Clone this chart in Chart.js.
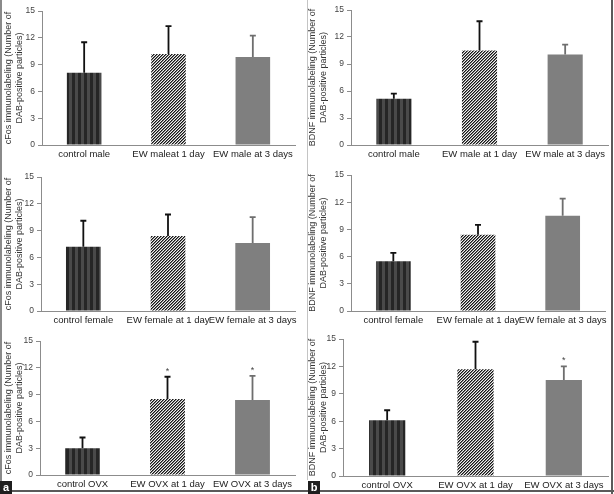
<!DOCTYPE html>
<html>
<head>
<meta charset="utf-8">
<script src="https://cdn.jsdelivr.net/npm/chart.js@4.4.1/dist/chart.umd.min.js"></script>
<style>
  html, body { margin: 0; padding: 0; background: #fff; }
  #wrap { position: relative; width: 614px; height: 494px; overflow: hidden; }
  #wrap canvas { position: absolute; }
  .line { position: absolute; }
  .tag { position: absolute; width: 12px; height: 13px; background: #1e1e1e; color: #fff;
         font: bold 11px "Liberation Sans", Arial, sans-serif; text-align: center; line-height: 12px; }
</style>
</head>
<body>
<div id="wrap">
  <canvas id="p1"></canvas>
  <canvas id="p2"></canvas>
  <canvas id="p3"></canvas>
  <canvas id="p4"></canvas>
  <canvas id="p5"></canvas>
  <canvas id="p6"></canvas>
  <div class="line" style="left:0;top:0;width:2px;height:494px;background:#8a8a8a"></div>
  <div class="line" style="left:307px;top:0;width:1px;height:480px;background:#c4c4c4"></div>
  <div class="line" style="left:611px;top:0;width:2px;height:494px;background:#5a5a5a"></div>
  <div class="line" style="left:0;top:490px;width:614px;height:2px;background:#5a5a5a"></div>
  <div class="tag" style="left:0;top:481px">a</div>
  <div class="tag" style="left:308px;top:481px">b</div>
</div>
<script>
// categories
const maleLabelsA = ["control male", "EW maleat 1 day", "EW male at 3 days"];
const maleLabelsB = ["control male", "EW male at 1 day", "EW male at 3 days"];
const femaleLabels = ["control female", "EW female at 1 day", "EW female at 3 days"];
const ovxLabels = ["control OVX", "EW OVX at 1 day", "EW OVX at 3 days"];

// means and upper error
const cfosMale = [8.1, 10.2, 9.85];
const cfosMaleErr = [3.4, 3.1, 2.4];
const bdnfMale = [5.15, 10.5, 10.05];
const bdnfMaleErr = [0.55, 3.25, 1.1];
const cfosFemale = [7.2, 8.4, 7.6];
const cfosFemaleErr = [2.9, 2.4, 2.9];
const bdnfFemale = [5.5, 8.4, 10.5];
const bdnfFemaleErr = [0.9, 1.1, 1.9];
const cfosOvx = [3.0, 8.5, 8.4];
const cfosOvxErr = [1.2, 2.5, 2.7];
const bdnfOvx = [6.1, 11.7, 10.5];
const bdnfOvxErr = [1.1, 3.0, 1.5];
const cfosOvxSig = ["", "*", "*"];
const bdnfOvxSig = ["", "", "*"];

const yTicks = [0, 3, 6, 9, 12, 15];
const cfosTitle = ["cFos immunolabeling (Number of", "DAB-positive particles)"];
const bdnfTitle = ["BDNF immunolabeling (Number of", "DAB-positive particles)"];

const FONT = '"Liberation Sans", Arial, sans-serif';

function makePattern(w, h, paint) {
  const c = document.createElement("canvas");
  c.width = w; c.height = h;
  const g = c.getContext("2d");
  paint(g);
  return g.createPattern(c, "repeat");
}

// vertical stripes for control bars
const stripes = makePattern(6, 6, (g) => {
  g.fillStyle = "#4a4a4a"; g.fillRect(0, 0, 6, 6);
  g.fillStyle = "#262626"; g.fillRect(0, 0, 3, 6);
});
// fine diagonal hatch for 1 day bars
const hatchShades = ["#151515", "#7a7a7a", "#f0f0f0"];
const hatch = makePattern(3, 3, (g) => {
  for (let x = 0; x < 3; x++)
    for (let y = 0; y < 3; y++) {
      g.fillStyle = hatchShades[(x + y) % 3];
      g.fillRect(x, y, 1, 1);
    }
});
const barFills = [stripes, hatch, "#7f7f7f"];
const errColors = ["#111", "#111", "#6e6e6e"];

const errorBars = {
  id: "errorBars",
  afterDatasetsDraw(chart, args, opts) {
    const ctx = chart.ctx;
    const y = chart.scales.y;
    const vals = chart.data.datasets[0].data;
    chart.getDatasetMeta(0).data.forEach((bar, i) => {
      const top = y.getPixelForValue(vals[i] + opts.errors[i]);
      ctx.save();
      ctx.strokeStyle = errColors[i];
      ctx.lineWidth = 1.8;
      ctx.beginPath();
      ctx.moveTo(bar.x, bar.y);
      ctx.lineTo(bar.x, top);
      ctx.moveTo(bar.x - 3, top);
      ctx.lineTo(bar.x + 3, top);
      ctx.stroke();
      if (opts.stars && opts.stars[i]) {
        ctx.fillStyle = "#444";
        ctx.font = "9px " + FONT;
        ctx.textAlign = "center";
        ctx.textBaseline = "bottom";
        ctx.fillText(opts.stars[i], bar.x, top - 1);
      }
      ctx.restore();
    });
  }
};

function panel(id, box, labels, values, errors, title, stars) {
  const cv = document.getElementById(id);
  cv.width = box.w; cv.height = box.h;
  cv.style.left = box.x + "px"; cv.style.top = box.y + "px";
  const padL = box.x === 0 ? 3.5 : 0;
  new Chart(cv, {
    type: "bar",
    data: {
      labels: labels,
      datasets: [{
        data: values,
        backgroundColor: barFills,
        borderWidth: 0,
        categoryPercentage: 1,
        barPercentage: 0.41
      }]
    },
    options: {
      responsive: false,
      animation: false,
      events: [],
      layout: { padding: { left: padL, top: box.top - box.y, right: box.x + box.w - box.right, bottom: 0 } },
      plugins: {
        legend: { display: false },
        tooltip: { enabled: false },
        errorBars: { errors: errors, stars: stars }
      },
      scales: {
        x: {
          grid: { display: false, drawTicks: false },
          border: { display: true, color: "#8c8c8c", width: 1 },
          ticks: { color: "#222", font: { family: FONT, size: 9.5 }, padding: 4,
                   maxRotation: 0, minRotation: 0, autoSkip: false },
          afterFit: (s) => { s.height = box.y + box.h - box.bottom; }
        },
        y: {
          min: 0, max: 15,
          afterBuildTicks: (s) => { s.ticks = yTicks.map((v) => ({ value: v })); },
          grid: { display: true, drawOnChartArea: false, drawTicks: true, tickLength: 4, color: "#8c8c8c" },
          border: { display: true, color: "#8c8c8c", width: 1 },
          ticks: { color: "#444", font: { family: FONT, size: 8.5 }, padding: 3 },
          title: { display: true, text: title, color: "#333", padding: 0,
                   font: { family: FONT, size: 9, lineHeight: 1.2 } },
          afterFit: (s) => { s.width = box.axisX - box.x - padL; }
        }
      }
    },
    plugins: [errorBars]
  });
}

panel("p1", { x: 0, y: 0, w: 307, h: 162, axisX: 42, top: 11, bottom: 145, right: 295 },
      maleLabelsA, cfosMale, cfosMaleErr, cfosTitle, null);
panel("p2", { x: 307, y: 0, w: 304, h: 162, axisX: 351, top: 10, bottom: 145, right: 608 },
      maleLabelsB, bdnfMale, bdnfMaleErr, bdnfTitle, null);
panel("p3", { x: 0, y: 162, w: 307, h: 165, axisX: 41, top: 177, bottom: 311, right: 295 },
      femaleLabels, cfosFemale, cfosFemaleErr, cfosTitle, null);
panel("p4", { x: 307, y: 162, w: 304, h: 165, axisX: 351, top: 175, bottom: 311, right: 608 },
      femaleLabels, bdnfFemale, bdnfFemaleErr, bdnfTitle, null);
panel("p5", { x: 0, y: 325, w: 307, h: 165, axisX: 40, top: 341, bottom: 475, right: 295 },
      ovxLabels, cfosOvx, cfosOvxErr, cfosTitle, cfosOvxSig);
panel("p6", { x: 307, y: 325, w: 304, h: 165, axisX: 343, top: 339, bottom: 476, right: 608 },
      ovxLabels, bdnfOvx, bdnfOvxErr, bdnfTitle, bdnfOvxSig);
</script>
</body>
</html>
